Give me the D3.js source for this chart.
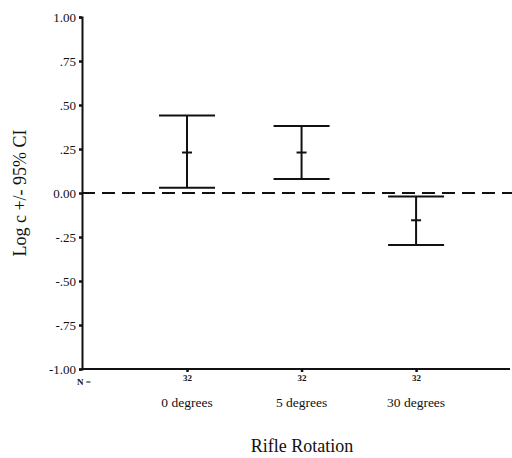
<!DOCTYPE html>
<html><head><meta charset="utf-8">
<script src="https://cdn.jsdelivr.net/npm/d3@7"></script>
<style>body{margin:0;background:#fff}svg{display:block}</style>
</head><body><svg id="c" width="512" height="458" font-family="serif"></svg>
<script>
const categories = ["0 degrees", "5 degrees", "30 degrees"];
const nValues = [32, 32, 32];
const means = [0.23, 0.23, -0.155];
const upper = [0.44, 0.38, -0.02];
const lower = [0.03, 0.08, -0.295];
const yTicks = [1.0, 0.75, 0.5, 0.25, 0.0, -0.25, -0.5, -0.75, -1.0];
const yTickLabels = ["1.00", ".75", ".50", ".25", "0.00", "-.25", "-.50", "-.75", "-1.00"];

const FONT = "serif";
const svg = d3.select("#c");
const y = d3.scaleLinear().domain([-1, 1]).range([369, 17]);
const x = d3.scaleLinear().domain([0.083, 3.82]).range([82, 510]);
const ink = "#111";

// y axis
const yAxis = d3.axisLeft(y).tickValues(yTicks).tickSize(3).tickPadding(3)
  .tickFormat((d, i) => yTickLabels[i]);
const gy = svg.append("g").attr("transform", "translate(82,0)").call(yAxis);
gy.attr("font-family", FONT);
gy.select(".domain").attr("stroke", ink).attr("stroke-width", 2);
gy.selectAll(".tick line").attr("stroke", ink).attr("stroke-width", 2.5);
gy.selectAll(".tick text").attr("font-size", 13).attr("fill", ink).attr("font-family", FONT);

// x axis
const xAxis = d3.axisBottom(x).tickValues([1, 2, 3]).tickSize(3).tickPadding(3)
  .tickFormat((d, i) => nValues[i]);
const gx = svg.append("g").attr("transform", "translate(0,369)").call(xAxis);
gx.attr("font-family", FONT);
gx.select(".domain").attr("stroke", ink).attr("stroke-width", 2).attr("d", "M82,0H510");
gx.selectAll(".tick line").attr("stroke", ink).attr("stroke-width", 2.5);
gx.selectAll(".tick text").attr("font-size", 9).attr("font-weight", "bold").attr("fill", ink).attr("font-family", FONT);

svg.append("text").attr("x", 84).attr("y", 385).attr("text-anchor", "middle")
  .attr("font-family", FONT).attr("font-size", 9).attr("font-weight", "bold").attr("fill", ink).text("N =");

// category labels
svg.selectAll("text.cat").data(categories).join("text").attr("class", "cat")
  .attr("x", (d, i) => x(i + 1)).attr("y", 407).attr("text-anchor", "middle")
  .attr("font-family", FONT).attr("font-size", 13.5).attr("fill", ink).text(d => d);

// zero reference line
svg.append("line").attr("x1", 82).attr("x2", 512).attr("y1", y(0)).attr("y2", y(0))
  .attr("stroke", ink).attr("stroke-width", 2).attr("stroke-dasharray", "13,7");

// error bars
const g = svg.append("g").attr("stroke", ink).attr("stroke-width", 2);
categories.forEach((c, i) => {
  const cx = x(i + 1);
  g.append("line").attr("x1", cx).attr("x2", cx).attr("y1", y(upper[i])).attr("y2", y(lower[i]));
  g.append("line").attr("x1", cx - 28).attr("x2", cx + 28).attr("y1", y(upper[i])).attr("y2", y(upper[i]));
  g.append("line").attr("x1", cx - 28).attr("x2", cx + 28).attr("y1", y(lower[i])).attr("y2", y(lower[i]));
  g.append("line").attr("x1", cx - 5).attr("x2", cx + 5).attr("y1", y(means[i])).attr("y2", y(means[i]));
});

// titles
svg.append("text").attr("x", 302).attr("y", 452).attr("text-anchor", "middle")
  .attr("font-family", FONT).attr("font-size", 18).attr("fill", ink).text("Rifle Rotation");
svg.append("text").attr("transform", "translate(26,193) rotate(-90)").attr("text-anchor", "middle")
  .attr("font-family", FONT).attr("font-size", 18).attr("fill", ink).text("Log c +/- 95% CI");
</script></body></html>
